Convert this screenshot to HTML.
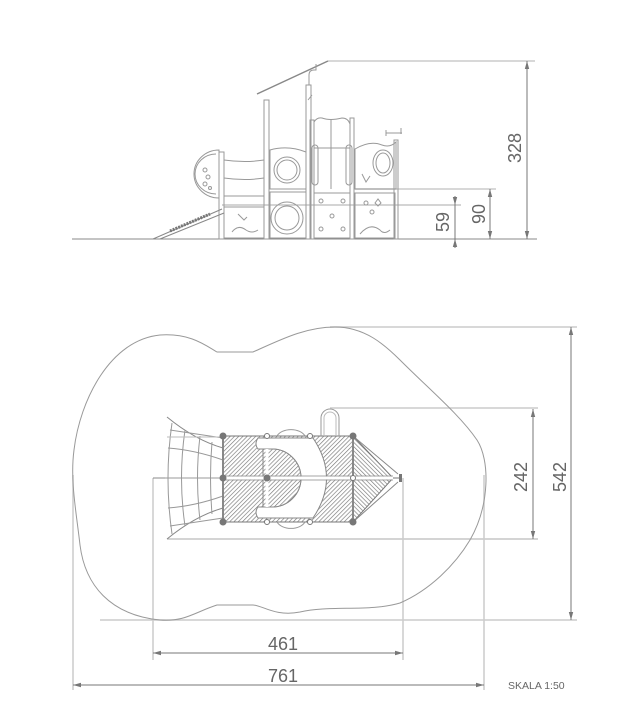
<!DOCTYPE html>
<html><head><meta charset="utf-8"><style>
html,body{margin:0;padding:0;background:#fff;}
svg{display:block;}
text{font-family:"Liberation Sans",sans-serif;fill:#666;}
</style></head><body>
<svg width="624" height="723" viewBox="0 0 624 723" xmlns="http://www.w3.org/2000/svg">
<defs>
<pattern id="h" width="3" height="3" patternUnits="userSpaceOnUse" patternTransform="rotate(45)">
<rect width="3" height="3" fill="#fff"/><line x1="0" y1="0" x2="0" y2="3" stroke="#777" stroke-width="1.3"/>
</pattern>
<pattern id="h2" width="3" height="3" patternUnits="userSpaceOnUse" patternTransform="rotate(-45)">
<rect width="3" height="3" fill="#fff"/><line x1="0" y1="0" x2="0" y2="3" stroke="#777" stroke-width="1.3"/>
</pattern>
<marker id="a" markerWidth="8" markerHeight="6" refX="8" refY="3" orient="auto-start-reverse" markerUnits="userSpaceOnUse">
<path d="M0,0.8 L8,3 L0,5.2z" fill="#777"/></marker>
</defs>

<!-- ===== SIDE VIEW ===== -->
<g fill="none" stroke="#999" stroke-width="1">
<line x1="72" y1="239" x2="537" y2="239" stroke="#888"/>
<line x1="328" y1="61" x2="535" y2="61" stroke="#ccc" stroke-width="1.5"/>
<line x1="355" y1="189" x2="496" y2="189" stroke="#ccc" stroke-width="1.5"/>
<line x1="222" y1="205" x2="461" y2="205" stroke="#aaa"/>
<line x1="257" y1="94" x2="328" y2="61" stroke="#888" stroke-width="1.5"/>
<rect x="264" y="100" width="5" height="139"/>
<rect x="306" y="85" width="5" height="154"/>
<path d="M309 85 V75 Q309 70 314 70 H316 V64"/>
<path d="M308 100 L312 95"/>
<rect x="219" y="152" width="5" height="87"/>
<rect x="310" y="120" width="4" height="119"/>
<rect x="350" y="118" width="4" height="121"/>
<rect x="394" y="140" width="4" height="99"/>
<path d="M219 150 A25 24 0 0 0 219 198 Z"/>
<path d="M216 154 A21 20 0 0 0 216 194"/>
<circle cx="205" cy="170" r="2"/><circle cx="208" cy="177" r="2"/><circle cx="205" cy="184" r="2"/><circle cx="210" cy="188" r="1.5"/>
<path d="M224 160 Q245 163 264 160"/><path d="M224 178 Q245 181 264 178"/><path d="M224 196 H264"/>
<rect x="224" y="207" width="40" height="31"/>
<path d="M232 232 Q238 224 246 230 Q252 234 258 230"/>
<path d="M238 214 l6 6 l3 -3"/>
<path d="M270 150 Q288 145 306 152 V189 H270 Z"/>
<circle cx="287" cy="170" r="13"/><circle cx="287" cy="170" r="10"/>
<rect x="270" y="192" width="36" height="46"/>
<circle cx="287" cy="218" r="16"/><circle cx="287" cy="218" r="12"/>
<path d="M314 122 Q317 117 322 118 Q330 121 342 118 Q348 118 350 124"/>
<line x1="314" y1="148" x2="350" y2="148"/>
<rect x="312" y="145" width="6" height="40" rx="3"/>
<rect x="346" y="145" width="6" height="40" rx="3"/>
<line x1="331" y1="120" x2="331" y2="189"/>
<rect x="314" y="193" width="36" height="45"/>
<circle cx="321" cy="201" r="2"/><circle cx="343" cy="201" r="2"/><circle cx="332" cy="216" r="2"/><circle cx="321" cy="229" r="2"/><circle cx="343" cy="229" r="2"/>
<path d="M355 149 Q370 140 382 145 Q390 148 396 142 V189 H355 Z"/>
<ellipse cx="383" cy="163" rx="10" ry="13"/><ellipse cx="383" cy="163" rx="7" ry="10"/>
<path d="M362 174 l4 8 l4 -6"/>
<path d="M386 133 H402 M386 130 V136 M401 128 V134"/>
<rect x="355" y="193" width="40" height="45"/>
<path d="M360 234 Q370 222 380 230 Q384 235 390 230"/>
<path d="M375 203 l3 -4 l3 4 l-3 3z"/><circle cx="366" cy="203" r="2"/><circle cx="372" cy="212" r="2"/>
<path d="M153 239 L222 209 M160 239 L224 213" stroke="#888"/>
<path d="M170 231 L210 214" stroke="#777" stroke-width="3" stroke-dasharray="2 1"/>
</g>
<g stroke="#777" stroke-width="1" fill="none">
<line x1="527" y1="61" x2="527" y2="239" marker-start="url(#a)" marker-end="url(#a)"/>
<line x1="490" y1="189" x2="490" y2="239" marker-start="url(#a)" marker-end="url(#a)"/>
<line x1="455" y1="196" x2="455" y2="205" marker-end="url(#a)"/>
<line x1="455" y1="248" x2="455" y2="239" marker-end="url(#a)"/>
<line x1="455" y1="205" x2="455" y2="239"/>
</g>
<text x="515" y="148" font-size="18" text-anchor="middle" dominant-baseline="central" transform="rotate(-90 515 148)">328</text>
<text x="479" y="214" font-size="18" text-anchor="middle" dominant-baseline="central" transform="rotate(-90 479 214)">90</text>
<text x="443" y="222" font-size="18" text-anchor="middle" dominant-baseline="central" transform="rotate(-90 443 222)">59</text>

<!-- ===== TOP VIEW ===== -->
<g fill="none">
<line x1="330" y1="327" x2="577" y2="327" stroke="#ccc" stroke-width="1.5"/>
<line x1="330" y1="408" x2="538" y2="408" stroke="#ccc" stroke-width="1.5"/>
<line x1="167" y1="539" x2="538" y2="539" stroke="#aaa"/>
<line x1="100" y1="620" x2="577" y2="620" stroke="#ccc" stroke-width="1.5"/>
<line x1="153" y1="478" x2="153" y2="660" stroke="#ccc" stroke-width="1.5"/>
<line x1="403" y1="478" x2="403" y2="660" stroke="#ccc" stroke-width="1.5"/>
<line x1="73" y1="475" x2="73" y2="690" stroke="#ccc" stroke-width="1.5"/>
<line x1="484" y1="475" x2="484" y2="690" stroke="#ccc" stroke-width="1.5"/>
<line x1="153" y1="478" x2="170" y2="478" stroke="#888"/>
<path d="M160 335 C190 333 205 345 217 352 L253 352 C280 340 305 327 335 327 C365 327 385 345 400 360 C430 390 460 415 477 440 C490 460 490 505 470 540 C455 565 430 590 400 603 C370 612 330 605 300 612 C275 617 262 605 253 605 L217 605 C195 612 185 622 160 620 C110 615 85 585 80 545 C76 510 70 480 74 450 C80 400 110 340 160 335 Z" stroke="#999" stroke-width="1"/>
<path d="M167 417 Q195 440 223 448 M167 539 Q195 516 223 508" stroke="#888"/>
<path d="M172 423 Q164 478 172 534 M185 430 Q178 478 185 526 M200 436 Q195 478 200 520 M212 442 Q209 478 212 514" stroke="#999"/>
<path d="M168 448 Q195 450 223 460 M165 478 H223 M168 508 Q195 506 223 496 M170 430 L223 438 M170 526 L223 518" stroke="#999"/>
<line x1="167" y1="437" x2="223" y2="437" stroke="#bbb"/>
<rect x="223" y="436" width="130" height="86" fill="url(#h)" stroke="#777"/>
<path d="M353 436 L393 478 L353 522 Z" fill="url(#h2)" stroke="#777"/>
<path d="M353 436 L398 474 M353 522 L398 482" stroke="#888"/>
<line x1="393" y1="478" x2="401" y2="478" stroke="#777"/>
<rect x="399" y="474" width="3" height="8" fill="#777"/>
<!-- D cutout -->
<path d="M258 438 H313 Q340 478 313 518 H258 Q254 512 258 507 H272 A29 29 0 0 0 272 449 H258 Q254 444 258 438 Z" fill="#fff" stroke="#888"/>
<path d="M263 449 H272 A29 29 0 0 1 272 507 H263 Z" fill="url(#h)" stroke="#888"/>
<line x1="223" y1="478" x2="393" y2="478" stroke="#fff" stroke-width="3"/>
<line x1="223" y1="476" x2="393" y2="476" stroke="#888" stroke-width="0.7"/>
<line x1="223" y1="480" x2="393" y2="480" stroke="#888" stroke-width="0.7"/>
<line x1="267" y1="449" x2="267" y2="507" stroke="#fff" stroke-width="3"/>
<line x1="353" y1="436" x2="353" y2="522" stroke="#888" stroke-width="2"/>
<line x1="223" y1="436" x2="223" y2="522" stroke="#888" stroke-width="2"/>
<path d="M277 436 A15 10 0 0 1 305 436" stroke="#999"/>
<path d="M277 522 A15 10 0 0 0 305 522" stroke="#999"/>
<path d="M321 436 V418 A9 9 0 0 1 339 418 V436" stroke="#999"/>
<path d="M324 436 V418 A6 6 0 0 1 336 418 V436" stroke="#bbb"/>
</g>
<g fill="#777">
<circle cx="223" cy="436" r="3.5"/><circle cx="223" cy="478" r="3.5"/><circle cx="223" cy="522" r="3.5"/>
<circle cx="267" cy="478" r="3.5"/><circle cx="353" cy="436" r="3.5"/><circle cx="353" cy="522" r="3.5"/>
</g>
<g fill="#fff" stroke="#777">
<circle cx="267" cy="436" r="2.5"/><circle cx="310" cy="436" r="2.5"/><circle cx="267" cy="522" r="2.5"/><circle cx="310" cy="522" r="2.5"/><circle cx="353" cy="478" r="2.5"/>
</g>
<g stroke="#777" stroke-width="1" fill="none">
<line x1="571" y1="327" x2="571" y2="620" marker-start="url(#a)" marker-end="url(#a)"/>
<line x1="533" y1="409" x2="533" y2="539" marker-start="url(#a)" marker-end="url(#a)"/>
<line x1="153" y1="653" x2="403" y2="653" marker-start="url(#a)" marker-end="url(#a)"/>
<line x1="73" y1="685" x2="484" y2="685" marker-start="url(#a)" marker-end="url(#a)"/>
</g>
<text x="560" y="477" font-size="18" text-anchor="middle" dominant-baseline="central" transform="rotate(-90 560 477)">542</text>
<text x="521" y="477" font-size="18" text-anchor="middle" dominant-baseline="central" transform="rotate(-90 521 477)">242</text>
<text x="283" y="650" font-size="18" text-anchor="middle">461</text>
<text x="283" y="682" font-size="18" text-anchor="middle">761</text>
<text x="508" y="689" font-size="10.5" fill="#777">SKALA 1:50</text>
</svg>
</body></html>
